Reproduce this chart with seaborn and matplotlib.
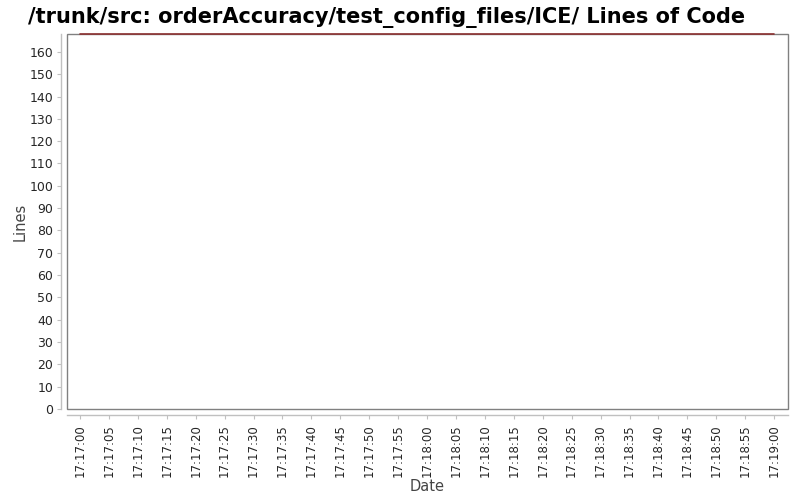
import pandas as pd
import numpy as np

import matplotlib
matplotlib.use("Agg")
import matplotlib.pyplot as plt
import matplotlib.dates as mdates
from matplotlib.patches import Rectangle
import seaborn as sns

# data
dates = ["2000-01-01 17:17:00", "2000-01-01 17:19:00"]
lines_of_code = [168, 168]

df = pd.DataFrame({"Date": pd.to_datetime(dates), "Lines": lines_of_code})

sns.set_style("white")
plt.rcParams["font.family"] = ["DejaVu Sans"]

fig = plt.figure(figsize=(8, 5), dpi=100)
ax = fig.add_axes([0.08375, 0.182, 0.90125, 0.750])

sns.lineplot(data=df, x="Date", y="Lines", color="#8b3030", linewidth=1.2, ax=ax)
for ln in ax.get_lines():
    ln.set_clip_on(False)
    ln.set_zorder(10)

# x range a bit past the data on both sides
t0 = df["Date"].min()
ax.set_xlim(t0 - pd.Timedelta(seconds=2.25), t0 + pd.Timedelta(seconds=122.4))
ax.set_ylim(0, 168)

ax.xaxis.set_major_locator(mdates.SecondLocator(bysecond=range(0, 60, 5)))
ax.xaxis.set_major_formatter(mdates.DateFormatter("%H:%M:%S"))
ax.set_yticks(range(0, 161, 10))

ax.tick_params(bottom=True, left=True)
ax.tick_params(axis="x", rotation=90, labelsize=8.5, length=3, width=0.8, pad=4)
ax.tick_params(axis="y", labelsize=9, length=3, width=0.8, pad=3)
for lbl in ax.get_xticklabels() + ax.get_yticklabels():
    lbl.set_color("#444444")
ax.tick_params(axis="both", color="#c0c0c0")

# axis lines sit a little outside the plot frame
for side in ["top", "right"]:
    ax.spines[side].set_visible(False)
for side in ["left", "bottom"]:
    ax.spines[side].set_position(("outward", 4))
    ax.spines[side].set_color("#c0c0c0")
    ax.spines[side].set_linewidth(1)

ax.add_patch(Rectangle((0, 0), 1, 1, transform=ax.transAxes, fill=False,
                       edgecolor="#808080", linewidth=1, clip_on=False, zorder=5))

ax.set_xlabel("Date", fontsize=10.5, color="#444444", labelpad=1)
ax.set_ylabel("Lines", fontsize=10.5, color="#444444", labelpad=1)
fig.suptitle("/trunk/src: orderAccuracy/test_config_files/ICE/ Lines of Code",
             fontsize=15, fontweight="bold", color="black", x=0.483, y=0.985)

fig.savefig("out.png", dpi=100)
